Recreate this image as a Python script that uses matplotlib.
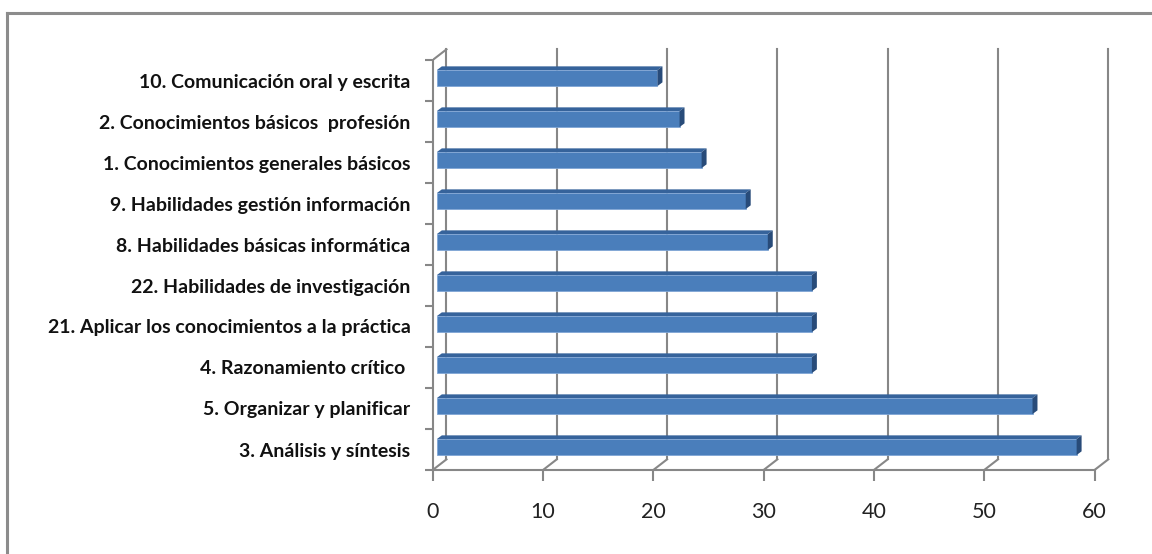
import matplotlib.pyplot as plt
from matplotlib.patches import Polygon
from matplotlib.lines import Line2D

categorias = [
    "3. Análisis y síntesis",
    "5. Organizar y planificar",
    "4. Razonamiento crítico ",
    "21. Aplicar los conocimientos a la práctica",
    "22. Habilidades de investigación",
    "8. Habilidades básicas informática",
    "9. Habilidades gestión información",
    "1. Conocimientos generales básicos",
    "2. Conocimientos básicos  profesión",
    "10. Comunicación oral y escrita",
]
valores = [58, 54, 34, 34, 34, 30, 28, 24, 22, 20]
marcas_x = [0, 10, 20, 30, 40, 50, 60]

# profundidad del "3D" en unidades de datos
prof_x, prof_y = 1.25, 0.26
barra_x, barra_y = 0.38, 0.06      # plano frontal de la barra
barra_dx, barra_dy = 0.45, 0.09     # grosor de la barra
alto = 0.39

gris = "#878787"
c_frente = "#4A7EBB"
c_arriba = "#36639B"
c_lado = "#284B79"

fig = plt.figure(figsize=(11.52, 5.54), dpi=100)
fig.add_artist(Line2D([7 / 1152, 7 / 1152], [0, 1 - 13 / 554], color="#8c8c8c", lw=2.2))
fig.add_artist(Line2D([7 / 1152, 1], [1 - 13 / 554, 1 - 13 / 554], color="#8c8c8c", lw=2.2))

ax = fig.add_axes([432.7 / 1152, 84 / 554, 690 / 1152, 423 / 554])
n = len(categorias)
ax.set_xlim(0, 690 / 11.03)
ax.set_ylim(-0.5, -0.5 + 423 / 41)

y0, y1 = -0.5, n - 0.5
# pared de fondo y suelo
for x in marcas_x:
    ax.plot([x + prof_x, x + prof_x], [y0 + prof_y, y1 + prof_y], color=gris, lw=1.5, zorder=1)
    ax.plot([x, x + prof_x], [y0, y0 + prof_y], color=gris, lw=1.5, zorder=1)
ax.plot([0, prof_x], [y1, y1 + prof_y], color=gris, lw=1.5, zorder=1)

# barras
for i, v in enumerate(valores):
    yb = i - alto / 2 + barra_y
    xl = barra_x
    ax.barh(i + barra_y, v, height=alto, left=xl, color=c_frente,
            edgecolor="#7FA6D6", lw=0.6, zorder=3)
    arriba = [(xl, yb + alto), (xl + v, yb + alto),
              (xl + v + barra_dx, yb + alto + barra_dy), (xl + barra_dx, yb + alto + barra_dy)]
    lado = [(xl + v, yb), (xl + v, yb + alto),
            (xl + v + barra_dx, yb + alto + barra_dy), (xl + v + barra_dx, yb + barra_dy)]
    ax.add_patch(Polygon(arriba, closed=True, fc=c_arriba, ec="none", zorder=3))
    ax.add_patch(Polygon(lado, closed=True, fc=c_lado, ec="none", zorder=3))

for s in ["top", "right"]:
    ax.spines[s].set_visible(False)
ax.spines["bottom"].set_bounds(0, 60)
ax.spines["left"].set_bounds(y0, y1)
for s in ["bottom", "left"]:
    ax.spines[s].set_color(gris)
    ax.spines[s].set_linewidth(1.5)

ax.set_xticks(marcas_x)
ax.set_xticklabels([str(m) for m in marcas_x], fontsize=15.5, family="Lato", color="#222222")
ax.tick_params(axis="x", direction="out", length=8, width=1.5, color=gris, pad=15)

ax.set_yticks(range(n))
ax.set_yticklabels(categorias, fontsize=14, family="Lato", fontweight="bold", color="#111111")
ax.set_yticks([y0 + k for k in range(n + 1)], minor=True)
ax.tick_params(axis="y", which="major", length=0, pad=16)
ax.tick_params(axis="y", which="minor", direction="out", length=6, width=1.5, color=gris)

fig.savefig("out.png", dpi=100)
